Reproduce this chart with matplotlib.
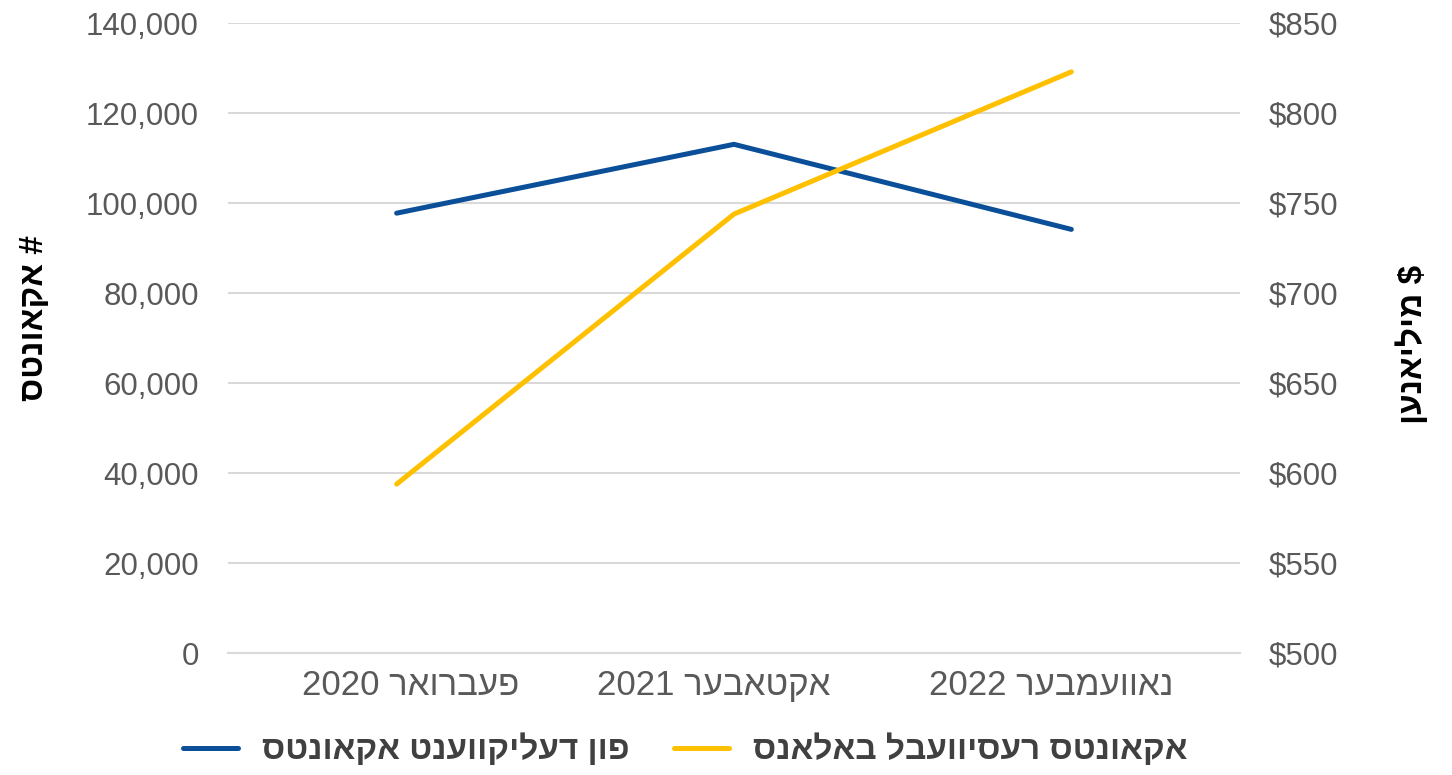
import matplotlib.pyplot as plt
from matplotlib.ticker import FuncFormatter
from matplotlib.transforms import ScaledTranslation

plt.rcParams['font.family'] = ['Liberation Sans', 'DejaVu Sans']


def rtl(s):
    # matplotlib has no bidi, so flip hebrew words by hand
    out = []
    for w in s.split(" ")[::-1]:
        if any('\u0590' <= c <= '\u05ff' for c in w):
            w = w[::-1]
        out.append(w)
    return " ".join(out)


months = ["פעברואר 2020", "אקטאבער 2021", "נאוועמבער 2022"]
delinquent = [97800, 113100, 94200]
receivable = [594, 744, 823]

blue = "#0a4f98"
yellow = "#ffc000"
gray = "#595959"

fig = plt.figure(figsize=(14.52, 7.75), dpi=100)
ax = fig.add_axes([0.157, 0.157, 0.697, 0.813])
ax2 = ax.twinx()

x = list(range(len(months)))
l1, = ax.plot(x, delinquent, color=blue, lw=3.6, solid_capstyle='round')
l2, = ax2.plot(x, receivable, color=yellow, lw=3.6, solid_capstyle='round')

ax.set_xlim(-0.5, 2.5)
ax.set_ylim(0, 140000)
ax.set_yticks(range(0, 140001, 20000))
ax.yaxis.set_major_formatter(FuncFormatter(lambda v, p: f"{int(v):,}"))
ax2.set_ylim(500, 850)
ax2.set_yticks(range(500, 851, 50))
ax2.yaxis.set_major_formatter(FuncFormatter(lambda v, p: f"${int(v)}"))

ax.set_xticks(x)
ax.set_xticklabels([rtl(m) for m in months])

ax.grid(axis='y', color='#d9d9d9', lw=1.5)
ax.set_axisbelow(True)
for a in (ax, ax2):
    for s in a.spines.values():
        s.set_visible(False)
    a.tick_params(length=0, labelsize=22.5, labelcolor=gray)
ax.tick_params(axis='y', pad=21)
ax2.tick_params(axis='y', pad=21)
ax.tick_params(axis='x', pad=11, labelsize=25)
ax.spines['bottom'].set_visible(True)
ax.spines['bottom'].set_color('#d9d9d9')
ax.spines['bottom'].set_linewidth(1.5)

# nudge the month labels like in the original
for lab, dx in zip(ax.get_xticklabels(), [0.14, -0.2, -0.2]):
    lab.set_transform(lab.get_transform() + ScaledTranslation(dx, 0, fig.dpi_scale_trans))

fig.text(0.024, 0.59, rtl("# אקאונטס"), rotation=90, fontsize=24,
         fontweight='bold', ha='center', va='center')
fig.text(0.973, 0.555, rtl("$ מיליאנען"), rotation=90, fontsize=24,
         fontweight='bold', ha='center', va='center')

leg = fig.legend([l1, l2], [rtl("פון דעליקווענט אקאונטס"), rtl("אקאונטס רעסיוועבל באלאנס")],
                 loc='center', bbox_to_anchor=(0.472, 0.032), ncol=2, frameon=False,
                 handlelength=1.65, handletextpad=0.7, columnspacing=1.35,
                 prop={'size': 24, 'weight': 'bold'})
for t in leg.get_texts():
    t.set_color('#404040')

fig.savefig("out.png", dpi=100)
